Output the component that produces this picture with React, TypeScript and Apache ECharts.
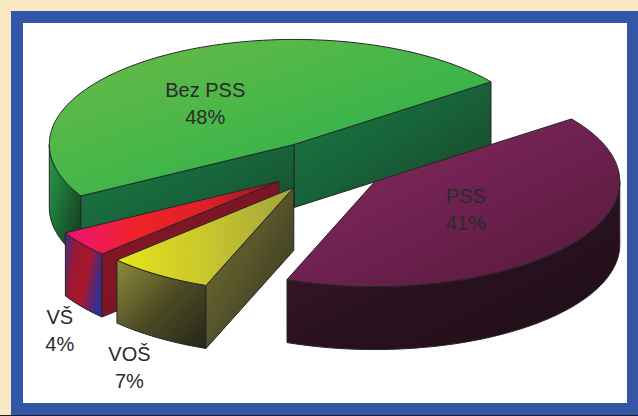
import React, { useEffect, useRef } from 'react';
import * as echarts from 'echarts';

// ---- data (angle order, clockwise from the start angle) ----
const categories = ['PSS', 'VOŠ', 'VŠ', 'Bez PSS'];
const values = [41, 7, 4, 48];

// ---- layout / style ----
const W = 638;
const H = 416;
const GEO = { cx: 327, cy: 166, rx: 245, ry: 105, depth: 63, explode: 0.245, startDeg: -36.6 };
const STROKE = '#262626';
const FONT = 'Liberation Sans, Arial, sans-serif';

const SLICE_STYLE = [
  { // PSS
    z: 10,
    top: [[0, 0, 1, 1], ['#8E2C62', '#6E2150', '#541A39']],
    wall: [[0, 0, 1, 1], ['#43172F', '#2A1120', '#1E0F16']],
    cut: [[0, 0, 1, 1], ['#4A1A35', '#25101C']],
    label: [-26, -10],
  },
  { // VOŠ
    z: 30,
    top: [[0, 0, 1, 0], ['#E6E41A', '#C9C72C', '#A3A23C']],
    wall: [[0, 0, 1, 1], ['#8F8D3C', '#4E4C24', '#25241A']],
    cut: [[0, 0, 1, 1], ['#7A7834', '#55532A', '#2E2D1C']],
    label: [-83, 128],
  },
  { // VŠ
    z: 20,
    top: [[0, 0, 1, 0], ['#F0127A', '#EE2228', '#E01E2A', '#8E1620']],
    wall: [[0, 0, 1, 0.4], ['#3E2E92', '#9C1830', '#A8182C', '#3A2C8C']],
    cut: [[0, 0, 1, 1], ['#8C1628', '#6C1422']],
    label: [-101, 112],
  },
  { // Bez PSS
    z: 0,
    top: [[0, 0, 1, 1], ['#6CBB46', '#45B649', '#1BAE4E']],
    wall: [[0, 0, 1, 1], ['#2E9E4A', '#1B6A34', '#1A2E1C']],
    cut: [[0, 0, 1, 1], ['#1A7D40', '#17623A', '#1B4027']],
    label: [-9, 12],
  },
];

function grad(def: any) {
  const [[x0, y0, x1, y1], colors] = def;
  const n = colors.length;
  return new echarts.graphic.LinearGradient(
    x0, y0, x1, y1,
    colors.map((c: string, i: number) => ({ offset: n === 1 ? 0 : i / (n - 1), color: c }))
  );
}

function pt(ax: number, ay: number, deg: number, dy = 0): number[] {
  const r = (deg * Math.PI) / 180;
  return [ax + GEO.rx * Math.cos(r), ay + GEO.ry * Math.sin(r) + dy];
}

function arc(ax: number, ay: number, a: number, b: number, dy = 0): number[][] {
  const n = Math.max(2, Math.ceil(Math.abs(b - a)));
  const out: number[][] = [];
  for (let k = 0; k <= n; k++) out.push(pt(ax, ay, a + ((b - a) * k) / n, dy));
  return out;
}

function renderSlice(params: any) {
  const i = params.dataIndex;
  const total = values.reduce((s, v) => s + v, 0);
  let start = GEO.startDeg;
  for (let j = 0; j < i; j++) start += (values[j] / total) * 360;
  const end = start + (values[i] / total) * 360;
  const mid = (start + end) / 2;
  const mr = (mid * Math.PI) / 180;
  const vx = GEO.rx * Math.cos(mr);
  const vy = GEO.ry * Math.sin(mr);
  const ax = GEO.cx + GEO.explode * vx;
  const ay = GEO.cy + GEO.explode * vy;
  const d = GEO.depth;
  const st = SLICE_STYLE[i];
  const children: any[] = [];
  const line = { stroke: STROKE, lineWidth: 1, lineJoin: 'round' };

  // outer curved wall (front half only)
  for (const [lo, hi] of [[0, 180], [360, 540], [-360, -180]]) {
    const a = Math.max(start, lo);
    const b = Math.min(end, hi);
    if (b > a) {
      const topPts = arc(ax, ay, a, b, 0);
      const botPts = arc(ax, ay, a, b, d).reverse();
      children.push({
        type: 'polygon',
        z2: st.z + 1,
        shape: { points: topPts.concat(botPts) },
        style: { fill: grad(st.wall), ...line },
      });
    }
  }
  // radial cut faces
  const apex = [ax, ay];
  const apexB = [ax, ay + d];
  const sinDeg = (g: number) => Math.sin((g * Math.PI) / 180);
  if (sinDeg(start - 90) > 0) {
    const e = pt(ax, ay, start);
    children.push({
      type: 'polygon',
      z2: st.z + 1,
      shape: { points: [apex, e, [e[0], e[1] + d], apexB] },
      style: { fill: grad(st.cut), ...line },
    });
  }
  if (sinDeg(end + 90) > 0) {
    const e = pt(ax, ay, end);
    children.push({
      type: 'polygon',
      z2: st.z + 1,
      shape: { points: [apex, e, [e[0], e[1] + d], apexB] },
      style: { fill: grad(st.cut), ...line },
    });
  }
  // top face
  children.push({
    type: 'polygon',
    z2: st.z + 2,
    shape: { points: [apex].concat(arc(ax, ay, start, end, 0)) },
    style: { fill: grad(st.top), ...line },
  });
  // label
  const lx = ax + 0.6 * vx + st.label[0];
  const ly = ay + 0.6 * vy + st.label[1];
  const pct = Math.round((values[i] / total) * 100) + '%';
  const txt = (text: string, y: number) => ({
    type: 'text',
    z2: 100,
    style: {
      text,
      x: lx,
      y,
      fill: '#2A2A2A',
      fontSize: 20,
      fontFamily: FONT,
      align: 'center',
      verticalAlign: 'middle',
    },
  });
  children.push(txt(categories[i], ly - 13.5));
  children.push(txt(pct, ly + 13.5));
  return { type: 'group', children };
}

export default function App() {
  const ref = useRef<HTMLDivElement>(null);
  useEffect(() => {
    if (!ref.current) return;
    const chart = echarts.init(ref.current, undefined, { renderer: 'svg' });
    chart.setOption({
      animation: false,
      backgroundColor: '#FAE8C2',
      graphic: [
        { type: 'rect', z: -10, shape: { x: 11, y: 11, width: W - 11, height: 404 }, style: { fill: '#3356A6' } },
        { type: 'rect', z: -9, shape: { x: 23, y: 23, width: 604, height: 380 }, style: { fill: '#FFFFFF' } },
        { type: 'rect', z: -9, shape: { x: 0, y: 415, width: W, height: 1 }, style: { fill: '#1E1E1E' } },
      ],
      series: [
        {
          type: 'custom',
          coordinateSystem: 'none',
          silent: true,
          data: values,
          renderItem: renderSlice,
        },
      ],
    });
    return () => chart.dispose();
  }, []);
  return (
    <div
      ref={ref}
      style={{ position: 'absolute', left: 0, top: 0, width: W, height: H }}
    />
  );
}
